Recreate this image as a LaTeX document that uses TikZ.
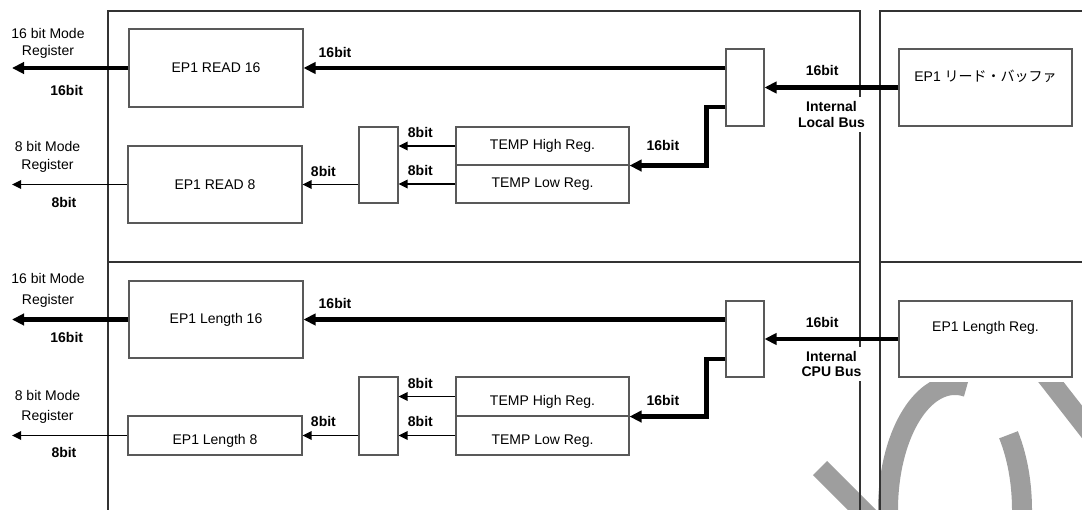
\documentclass[tikz,border=0pt]{standalone}
\usepackage{fontspec}
\setmainfont{Liberation Sans}
\newfontfamily\jpfont{Noto Sans CJK JP}
\usetikzlibrary{arrows.meta,calc}

\tikzset{
  blk/.style={draw=black!65, line width=0.8pt, fill=white, inner sep=0pt,
    font=\fontsize{10.5}{12.6}\selectfont},
  txtlow/.style={text height=14pt, text depth=0pt},
  bus/.style={line width=3.3pt, -{Triangle[length=9pt,width=8.5pt]}},
  sig/.style={line width=1pt, -{Triangle[length=6.8pt,width=6.5pt]}},
  bitlbl/.style={font=\bfseries\fontsize{10.5}{12.6}\selectfont},
  buslbl/.style={font=\bfseries\fontsize{10.5}{11.5}\selectfont, align=center, fill=white},
  modelbl/.style={font=\fontsize{10.5}{#1}\selectfont, align=center},
  modelbl/.default=13pt,
  frame/.style={draw=black!80, line width=0.8pt},
  wmark/.style={draw=black!38, line width=15pt},
}

\begin{document}
\begin{tikzpicture}[x=0.75pt,y=-0.75pt]
\useasboundingbox (0,0) rectangle (1082,510);
% Marca d'agua
\begin{scope}
\clip (0,382) rectangle (1082,510);
\draw[wmark] (955,510) ++(80:50.25pt and 93.75pt) arc[start angle=80,end angle=397,x radius=50.25pt,y radius=93.75pt];
\draw[wmark] (820,468) -- (890,538);
\draw[wmark] (1040,368) -- (1100,445);
\end{scope}
% Molduras
\draw[frame] (108,510) -- (108,11) -- (860,11) -- (860,510);
\draw[frame] (108,262) -- (860,262);
\draw[frame] (1082,11) -- (880,11) -- (880,510);
\draw[frame] (880,262) -- (1082,262);
% Blocos: leitura
\node[blk, minimum width=130.5pt, minimum height=58.5pt] (rd16) at (216,68) {EP1 READ 16};
\node[blk, minimum width=130.5pt, minimum height=57.75pt] (rd8) at (215,184.5) {EP1 READ 8};
\node[blk, minimum width=29.25pt, minimum height=57pt] (selA) at (378.5,165) {};
\node[blk, minimum width=129.75pt, minimum height=28.5pt] (thiA) at (542.5,146) {TEMP High Reg.};
\node[blk, minimum width=129.75pt, minimum height=28.5pt] (tloA) at (542.5,184) {TEMP Low Reg.};
\node[blk, minimum width=28.5pt, minimum height=57.75pt] (busA) at (745,87.5) {};
\node[blk, minimum width=129.75pt, minimum height=57.75pt, text depth=17pt] (bufA) at (985.5,87.5) {EP1 {\jpfont リード・バッファ}};
% Blocos: comprimento
\node[blk, minimum width=130.5pt, minimum height=57.75pt] (len16) at (216,319.5) {EP1 Length 16};
\node[blk, txtlow, minimum width=130.5pt, minimum height=29.25pt] (len8) at (215,435.5) {EP1 Length 8};
\node[blk, minimum width=29.25pt, minimum height=58.5pt] (selB) at (378.5,416) {};
\node[blk, txtlow, minimum width=129.75pt, minimum height=29.25pt] (thiB) at (542.5,396.5) {TEMP High Reg.};
\node[blk, txtlow, minimum width=129.75pt, minimum height=29.25pt] (tloB) at (542.5,435.5) {TEMP Low Reg.};
\node[blk, minimum width=28.5pt, minimum height=57pt] (busB) at (745,339) {};
\node[blk, minimum width=129.75pt, minimum height=57pt, text depth=19.6pt] (regB) at (985.5,339) {EP1 Length Reg.};
% Saidas
\coordinate (o16A) at (12,68);
\coordinate (o8A) at (12,184.5);
\coordinate (o16B) at (12,319.5);
\coordinate (o8B) at (12,435.5);
\node[modelbl=12.75pt] (m16A) at (48,43.5) {16 bit Mode\\Register};
\node[modelbl=13.5pt] (m8A) at (47.5,157) {8 bit Mode\\Register};
\node[modelbl=15.75pt] (m16B) at (48,290.5) {16 bit Mode\\Register};
\node[modelbl=15pt] (m8B) at (47.5,407) {8 bit Mode\\Register};
\draw[bus] (rd16.west) -- (o16A) node[bitlbl, pos=0.53, below=8.1pt] {16bit};
\draw[sig] (rd8.west) -- (o8A) node[bitlbl, pos=0.55, below=5.9pt] {8bit};
\draw[bus] (len16.west) -- (o16B) node[bitlbl, pos=0.53, below=4.4pt] {16bit};
\draw[sig] (len8.west) -- (o8B) node[bitlbl, pos=0.55, below=5.1pt] {8bit};
% Ligacoes: leitura
\draw[bus] (busA.west |- rd16.east) -- (rd16.east) node[bitlbl, at end, anchor=south west, xshift=6.4pt, yshift=2.7pt] {16bit};
\draw[bus] ([yshift=-14.6pt]busA.west) -- ++(-19,0) |- (thiA.south east) node[bitlbl, at end, anchor=south west, xshift=7.8pt, yshift=5.9pt] {16bit};
\draw[sig] (thiA.west) -- (selA.east |- thiA.west) node[bitlbl, at end, anchor=south west, xshift=3.2pt, yshift=2.1pt] {8bit};
\draw[sig] (tloA.west) -- (selA.east |- tloA.west) node[bitlbl, at end, anchor=south west, xshift=3.2pt, yshift=2.5pt] {8bit};
\draw[sig] (selA.west |- rd8.east) -- (rd8.east) node[bitlbl, at end, anchor=south west, xshift=2.5pt, yshift=1.7pt] {8bit};
\draw[bus] (bufA.west) -- (busA.east) node[bitlbl, pos=0.57, above=4.2pt] {16bit} node[buslbl, midway, below=5.7pt] {Internal\\Local Bus};
% Ligacoes: comprimento
\draw[bus] (busB.west |- len16.east) -- (len16.east) node[bitlbl, at end, anchor=south west, xshift=6.4pt, yshift=3.3pt] {16bit};
\draw[bus] ([yshift=-15pt]busB.west) -- ++(-19,0) |- (thiB.south east) node[bitlbl, at end, anchor=south west, xshift=7.8pt, yshift=3.3pt] {16bit};
\draw[sig] (thiB.west) -- (selB.east |- thiB.west) node[bitlbl, at end, anchor=south west, xshift=3.2pt, yshift=1.8pt] {8bit};
\draw[sig] (tloB.west) -- (selB.east |- tloB.west) node[bitlbl, at end, anchor=south west, xshift=3.2pt, yshift=2.5pt] {8bit};
\draw[sig] (selB.west |- len8.east) -- (len8.east) node[bitlbl, at end, anchor=south west, xshift=2.5pt, yshift=2.5pt] {8bit};
\draw[bus] (regB.west) -- (busB.east) node[bitlbl, pos=0.57, above=3.4pt] {16bit} node[buslbl, midway, below=4.2pt] {Internal\\CPU Bus};
\end{tikzpicture}
\end{document}
